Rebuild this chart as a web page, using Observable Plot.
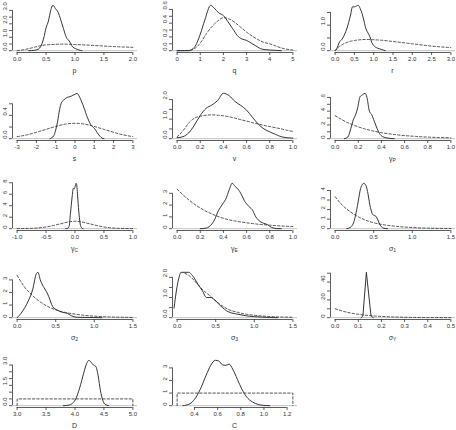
<!DOCTYPE html>
<html>
<head>
<meta charset="utf-8">
<script src="https://cdn.jsdelivr.net/npm/d3@7"></script>
<script src="https://cdn.jsdelivr.net/npm/@observablehq/plot@0.6"></script>
<style>
  html, body { margin: 0; padding: 0; background: #fff; overflow: hidden; }
  #grid { position: relative; width: 456px; height: 430px; overflow: hidden; }
  #grid > svg { position: absolute; }
</style>
</head>
<body>
<div id="grid"></div>
<script>
// Posterior (solid) and prior (dashed) densities, as [value, density] pairs.
const postP = [[0.2,0],[0.3,0.03],[0.36,0.1],[0.42,0.42],[0.46,0.95],[0.5,1.7],[0.54,2.2],[0.58,3.0],[0.62,3.38],[0.66,3.15],[0.71,2.85],[0.75,2.35],[0.8,1.65],[0.85,1.0],[0.9,0.72],[0.96,0.28],[1.01,0.15],[1.07,0.05],[1.12,0]];
const priorP = [[0,0],[0.1,0.06],[0.2,0.15],[0.3,0.26],[0.4,0.37],[0.5,0.43],[0.6,0.46],[0.8,0.49],[1.0,0.46],[1.2,0.42],[1.4,0.37],[1.6,0.32],[1.8,0.28],[2.0,0.25]];

const postQ = [[0,0],[0.5,0],[0.75,0.05],[1.0,0.24],[1.2,0.45],[1.45,0.66],[1.6,0.62],[1.8,0.55],[2.0,0.51],[2.2,0.42],[2.4,0.32],[2.6,0.22],[2.8,0.17],[3.0,0.15],[3.2,0.11],[3.4,0.07],[3.6,0.03],[3.8,0.015],[4.0,0.01],[4.5,0]];
const priorQ = [[0,0],[0.5,0.005],[0.75,0.03],[1.0,0.11],[1.25,0.24],[1.5,0.35],[1.75,0.43],[2.0,0.48],[2.25,0.46],[2.5,0.41],[2.75,0.34],[3.0,0.27],[3.25,0.21],[3.5,0.16],[3.75,0.12],[4.0,0.1],[4.25,0.07],[4.5,0.04],[4.75,0.02],[5.0,0.01]];

const postR = [[0,0],[0.05,0.1],[0.1,0.3],[0.2,0.5],[0.3,0.85],[0.4,1.4],[0.45,1.72],[0.5,1.72],[0.55,1.75],[0.6,1.78],[0.65,1.65],[0.7,1.45],[0.75,1.15],[0.8,0.85],[0.85,0.7],[0.9,0.55],[0.95,0.32],[1.0,0.2],[1.1,0.1],[1.2,0.05],[1.3,0]];
const priorR = [[0,0],[0.1,0.15],[0.2,0.25],[0.3,0.32],[0.4,0.37],[0.5,0.4],[0.6,0.42],[0.8,0.44],[1.0,0.43],[1.2,0.41],[1.5,0.36],[2.0,0.27],[2.5,0.18],[3.0,0.12]];

const postS = [[-1.3,0],[-1.1,0.05],[-1.0,0.15],[-0.9,0.3],[-0.8,0.5],[-0.7,0.62],[-0.6,0.66],[-0.5,0.69],[-0.4,0.71],[-0.3,0.72],[-0.2,0.73],[-0.1,0.75],[0.0,0.76],[0.1,0.78],[0.2,0.74],[0.3,0.67],[0.4,0.59],[0.5,0.5],[0.6,0.4],[0.7,0.32],[0.8,0.25],[0.9,0.21],[1.0,0.18],[1.1,0.13],[1.2,0.08],[1.3,0.04],[1.4,0.01],[1.5,0]];
const priorS = [[-3,0.035],[-2.5,0.065],[-2,0.11],[-1.5,0.16],[-1,0.21],[-0.5,0.25],[0,0.265],[0.5,0.25],[1,0.21],[1.5,0.16],[2,0.11],[2.5,0.065],[3,0.035]];

const postV = [[0,0.05],[0.05,0.1],[0.1,0.3],[0.15,0.7],[0.2,1.19],[0.25,1.55],[0.3,1.72],[0.35,1.95],[0.4,2.32],[0.45,2.2],[0.5,1.9],[0.55,1.7],[0.6,1.46],[0.65,1.1],[0.7,0.75],[0.75,0.5],[0.8,0.35],[0.85,0.22],[0.9,0.1],[0.95,0.05],[1.0,0.03]];
const priorV = [[0,0.1],[0.05,0.4],[0.1,0.8],[0.15,1.05],[0.2,1.15],[0.25,1.2],[0.3,1.22],[0.35,1.2],[0.4,1.17],[0.45,1.12],[0.5,1.05],[0.55,0.97],[0.6,0.9],[0.65,0.82],[0.7,0.75],[0.75,0.68],[0.8,0.62],[0.85,0.56],[0.9,0.5],[0.95,0.43],[1.0,0.37]];

const postGP = [[0.08,0],[0.11,0.25],[0.136,1.5],[0.157,2.75],[0.175,3.4],[0.195,4.5],[0.215,6.1],[0.238,6.4],[0.258,6.6],[0.275,6.0],[0.296,4.0],[0.316,3.5],[0.339,2.5],[0.362,1.5],[0.383,0.75],[0.41,0.3],[0.45,0.1],[0.51,0]];
const priorGP = [[0,3.35],[0.05,2.85],[0.1,2.4],[0.15,2.05],[0.2,1.72],[0.25,1.45],[0.3,1.23],[0.35,1.04],[0.4,0.88],[0.5,0.63],[0.6,0.45],[0.7,0.33],[0.8,0.23],[0.9,0.17],[1.0,0.12]];

const postGC = [[-0.16,0],[-0.12,0.1],[-0.1,0.5],[-0.08,2.5],[-0.05,5.5],[-0.03,7.0],[-0.015,6.9],[0.0,7.3],[0.02,7.9],[0.03,7.6],[0.05,5.0],[0.07,2.5],[0.09,0.8],[0.11,0.2],[0.14,0]];
const priorGC = [[-1,0.02],[-0.75,0.06],[-0.5,0.3],[-0.25,0.85],[-0.1,1.2],[0,1.3],[0.1,1.2],[0.25,0.85],[0.5,0.3],[0.75,0.06],[1,0.02]];

const postGE = [[0.2,0],[0.25,0.05],[0.3,0.4],[0.33,0.9],[0.35,1.4],[0.38,1.9],[0.4,2.2],[0.42,2.5],[0.45,3.3],[0.475,3.85],[0.5,3.6],[0.53,3.3],[0.55,3.0],[0.58,2.4],[0.6,2.1],[0.63,1.8],[0.65,1.6],[0.68,1.0],[0.7,0.75],[0.75,0.45],[0.78,0.35],[0.8,0.2],[0.83,0.06],[0.86,0.01],[0.9,0]];
const priorGE = [[0,3.35],[0.1,2.45],[0.2,1.75],[0.3,1.25],[0.4,0.88],[0.5,0.65],[0.6,0.5],[0.7,0.38],[0.8,0.3],[0.9,0.23],[1.0,0.18]];

const postS1 = [[0.15,0],[0.2,0.15],[0.25,0.9],[0.28,2.0],[0.3,2.9],[0.33,4.2],[0.35,4.6],[0.37,4.75],[0.4,4.5],[0.42,3.9],[0.45,2.5],[0.48,1.6],[0.5,1.4],[0.52,1.35],[0.55,1.0],[0.57,0.6],[0.6,0.2],[0.63,0.05],[0.68,0]];
const priorS1 = [[0,3.35],[0.1,2.4],[0.2,1.75],[0.3,1.25],[0.4,0.88],[0.5,0.62],[0.6,0.45],[0.8,0.24],[1.0,0.12],[1.2,0.06],[1.5,0.02]];

const postS2 = [[0,0],[0.05,0.34],[0.1,0.8],[0.15,1.4],[0.2,2.2],[0.25,3.5],[0.27,3.6],[0.3,3.0],[0.34,2.47],[0.38,2.07],[0.41,1.67],[0.46,0.88],[0.52,0.6],[0.59,0.42],[0.65,0.35],[0.7,0.16],[0.78,0.03],[1.0,0.01],[1.1,0]];
const priorS2 = [[0,3.35],[0.1,2.4],[0.2,1.75],[0.3,1.25],[0.4,0.88],[0.5,0.62],[0.6,0.45],[0.8,0.24],[1.0,0.12],[1.2,0.06],[1.5,0.02]];

const postS3 = [[-0.04,0.47],[-0.01,1.32],[0.03,2.08],[0.05,2.25],[0.1,2.25],[0.15,2.25],[0.2,2.08],[0.27,1.66],[0.33,1.32],[0.38,1.0],[0.44,1.0],[0.48,0.9],[0.57,0.56],[0.66,0.3],[0.79,0.17],[0.92,0.08],[1.09,0.03],[1.2,0.01],[1.3,0]];
const priorS3 = [[0.1,2.2],[0.15,2.1],[0.22,1.85],[0.3,1.5],[0.35,1.32],[0.42,1.1],[0.48,0.9],[0.55,0.68],[0.66,0.42],[0.79,0.26],[0.9,0.17],[1.0,0.12],[1.18,0.06],[1.3,0.04],[1.5,0.02]];

const postSY = [[0.112,0],[0.12,2],[0.135,51],[0.155,2],[0.165,0]];
const priorSY = [[0,10],[0.05,6.2],[0.1,3.8],[0.15,2.3],[0.2,1.4],[0.25,0.85],[0.3,0.5],[0.4,0.18],[0.5,0.07]];

const postD = [[3.8,0],[3.9,0.05],[4.0,0.4],[4.08,1.3],[4.15,2.4],[4.2,3.1],[4.24,3.35],[4.28,3.2],[4.32,3.0],[4.36,2.9],[4.4,2.2],[4.44,1.1],[4.48,0.4],[4.52,0.1],[4.58,0]];
const priorD = [[3.0,0],[3.0,0.5],[5.0,0.5],[5.0,0]];

const postC = [[0.3,0],[0.36,0.15],[0.4,0.5],[0.45,1.3],[0.5,2.4],[0.54,3.2],[0.58,3.6],[0.61,3.55],[0.64,3.25],[0.67,3.2],[0.7,3.3],[0.73,2.9],[0.77,2.1],[0.81,1.3],[0.85,0.7],[0.9,0.3],[0.95,0.1],[1.0,0.02],[1.05,0]];
const priorC = [[0.25,0],[0.25,1],[1.25,1],[1.25,0]];

// Axis ticks and labels
const ticks0to2 = [0, 0.5, 1, 1.5, 2];
const ticks0to5 = [0, 1, 2, 3, 4, 5];
const ticks0to3 = [0, 0.5, 1, 1.5, 2, 2.5, 3];
const ticksNeg3to3 = [-3, -2, -1, 0, 1, 2, 3];
const ticksUnit = [0, 0.2, 0.4, 0.6, 0.8, 1.0];
const ticksNeg1to1 = [-1, -0.5, 0, 0.5, 1];
const ticks0to15 = [0, 0.5, 1.0, 1.5];
const ticks0to05 = [0, 0.1, 0.2, 0.3, 0.4, 0.5];
const ticks3to5 = [3, 3.5, 4, 4.5, 5];
const ticksC = [0.4, 0.6, 0.8, 1.0, 1.2];

const names = [["p"], ["q"], ["r"], ["s"], ["v"], ["γ", "P"], ["γ", "C"], ["γ", "E"], ["σ", "1"], ["σ", "2"], ["σ", "3"], ["σ", "Y"], ["D"], ["C"]];

const panels = [
  {post: postP, prior: priorP, xlim: [0, 2], xTicks: ticks0to2, xDigits: 1, yTicks: [0, 0.5, 1, 1.5, 2, 2.5, 3], yLabels: [0, 1, 2, 3], yDigits: 1},
  {post: postQ, prior: priorQ, xlim: [0, 5], xTicks: ticks0to5, xDigits: 0, yTicks: [0, 0.1, 0.2, 0.3, 0.4, 0.5, 0.6], yLabels: [0, 0.2, 0.4, 0.6], yDigits: 1},
  {post: postR, prior: priorR, xlim: [0, 3], xTicks: ticks0to3, xDigits: 1, yTicks: [0, 0.5, 1, 1.5], yLabels: [0, 1], yDigits: 1},
  {post: postS, prior: priorS, xlim: [-3, 3], xTicks: ticksNeg3to3, xDigits: 0, yTicks: [0, 0.2, 0.4, 0.6], yLabels: [0, 0.4], yDigits: 1},
  {post: postV, prior: priorV, xlim: [0, 1], xTicks: ticksUnit, xDigits: 1, yTicks: [0, 0.5, 1, 1.5, 2], yLabels: [0, 1, 2], yDigits: 1},
  {post: postGP, prior: priorGP, xlim: [0, 1], xTicks: ticksUnit, xDigits: 1, yTicks: [0, 1, 2, 3, 4, 5, 6], yLabels: [0, 2, 4, 6], yDigits: 0},
  {post: postGC, prior: priorGC, xlim: [-1, 1], xTicks: ticksNeg1to1, xDigits: 1, yTicks: [0, 2, 4, 6, 8], yLabels: [0, 2, 4, 6, 8], yDigits: 0},
  {post: postGE, prior: priorGE, xlim: [0, 1], xTicks: ticksUnit, xDigits: 1, yTicks: [0, 1, 2, 3], yLabels: [0, 1, 2, 3], yDigits: 0},
  {post: postS1, prior: priorS1, xlim: [0, 1.5], xTicks: ticks0to15, xDigits: 1, yTicks: [0, 1, 2, 3, 4], yLabels: [0, 1, 2, 3, 4], yDigits: 0},
  {post: postS2, prior: priorS2, xlim: [0, 1.5], xTicks: ticks0to15, xDigits: 1, yTicks: [0, 1, 2, 3], yLabels: [0, 1, 2, 3], yDigits: 0},
  {post: postS3, prior: priorS3, xlim: [0, 1.5], xTicks: ticks0to15, xDigits: 1, yTicks: [0, 0.5, 1, 1.5, 2], yLabels: [0, 1, 2], yDigits: 1},
  {post: postSY, prior: priorSY, xlim: [0, 0.5], xTicks: ticks0to05, xDigits: 1, yTicks: [0, 10, 20, 30, 40, 50], yLabels: [0, 20, 40], yDigits: 0, postCurve: "linear"},
  {post: postD, prior: priorD, xlim: [3, 5], xTicks: ticks3to5, xDigits: 1, yTicks: [0, 0.5, 1, 1.5, 2, 2.5, 3], yLabels: [0, 1.5, 3], yDigits: 1, priorCurve: "linear"},
  {post: postC, prior: priorC, xlim: [0.25, 1.25], xTicks: ticksC, xDigits: 1, yTicks: [0, 1, 2, 3], yLabels: [0, 1, 2, 3], yDigits: 0, priorCurve: "linear"}
];

// Layout of the 5 x 3 grid of plotting regions (page pixels)
const colLeft = [12, 172, 330];
const rowTop = [3, 91, 181, 270, 358];
const PW = 125, PH = 49;
const ML = 24, MR = 12, MT = 4, MB = 34;
const ink = "#2a2a2a";

const fmt = digits => d => (d < 0 ? "-" : "") + Math.abs(d).toFixed(digits);

const grid = document.getElementById("grid");

panels.forEach((p, i) => {
  const col = i % 3, row = Math.floor(i / 3);
  const [a, b] = p.xlim;
  const ex = 0.04 * (b - a);
  const xd = [a - ex, b + ex];
  const M = d3.max([...p.post, ...p.prior], d => d[1]);
  const yd = [-0.04 * M, 1.04 * M];
  const fx = fmt(p.xDigits), fy = fmt(p.yDigits);

  const svg = Plot.plot({
    width: ML + PW + MR,
    height: MT + PH + MB,
    marginLeft: ML, marginRight: MR, marginTop: MT, marginBottom: MB,
    x: {domain: xd},
    y: {domain: yd},
    style: {fontFamily: "'Liberation Sans', Arial, sans-serif", fontSize: "6px", color: "#333", background: "transparent", overflow: "visible"},
    marks: [
      // zero line of the density plot
      Plot.ruleY([0], {stroke: "#c4c4c4", strokeWidth: 1}),
      // prior (dashed)
      Plot.line(p.prior, {x: d => d[0], y: d => d[1], stroke: ink, strokeWidth: 0.8, strokeDasharray: "2.4,2", curve: p.priorCurve || "monotone-x"}),
      // posterior (solid)
      Plot.line(p.post, {x: d => d[0], y: d => d[1], stroke: ink, strokeWidth: 0.95, curve: p.postCurve || "monotone-x"}),
      // axis lines spanning first to last tick
      Plot.ruleY([yd[0]], {x1: p.xTicks[0], x2: p.xTicks[p.xTicks.length - 1], stroke: "#333", strokeWidth: 0.8}),
      Plot.ruleX([xd[0]], {y1: p.yTicks[0], y2: p.yTicks[p.yTicks.length - 1], stroke: "#333", strokeWidth: 0.8}),
      Plot.axisX(p.xTicks, {tickSize: 3, tickPadding: 1.5, tickFormat: fx, fontSize: 6, label: null, strokeWidth: 0.8}),
      Plot.axisY(p.yTicks, {tickSize: 3, tickFormat: () => "", label: null, strokeWidth: 0.8}),
      Plot.text(p.yLabels, {y: d => d, frameAnchor: "left", dx: -7.5, rotate: -90, text: fy, fontSize: 6, fill: "#333"})
    ]
  });

  // x-axis title, with an optional subscript
  const [base, sub] = names[i];
  const t = d3.select(svg).append("text")
    .attr("x", ML + PW / 2)
    .attr("y", MT + PH + 20.5)
    .attr("text-anchor", "middle")
    .attr("font-size", 7)
    .attr("fill", "#333")
    .text(base);
  if (sub) t.append("tspan").attr("font-size", 5).attr("dy", 1.6).text(sub);

  svg.style.left = (colLeft[col] - ML) + "px";
  svg.style.top = (rowTop[row] - MT) + "px";
  svg.style.maxWidth = "none";
  grid.appendChild(svg);
});
</script>
</body>
</html>
